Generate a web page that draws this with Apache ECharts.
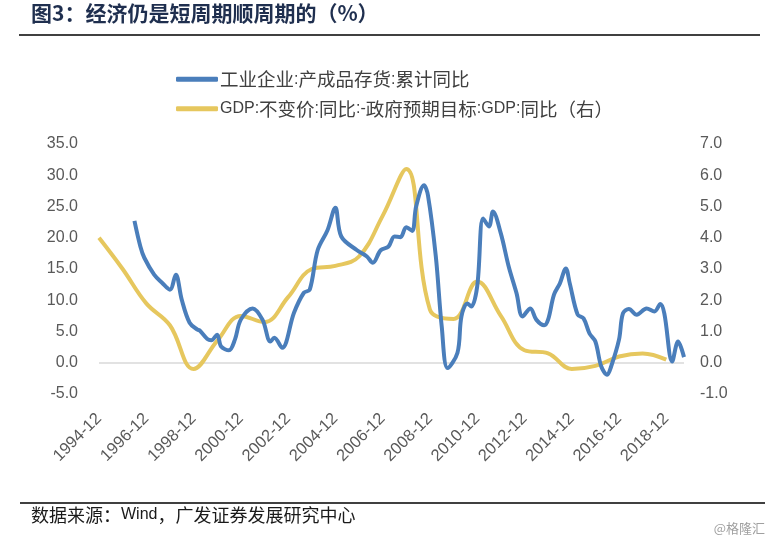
<!DOCTYPE html>
<html><head><meta charset="utf-8">
<script src="https://cdn.jsdelivr.net/npm/echarts@6/dist/echarts.min.js"></script>
<style>html,body{margin:0;padding:0;background:#fff}#c{width:779px;height:544px}</style>
</head><body><div id="c"></div>
<script>
// category axis: monthly, 1994-12 .. 2019-09
const startYear = 1994, startMonth = 12, monthCount = 298;
const categories = [];
for (let k = 0; k < monthCount; k++) {
  const t = (startMonth - 1) + k;
  const y = startYear + Math.floor(t / 12);
  const m = (t % 12) + 1;
  categories.push(y + '-' + (m < 10 ? '0' + m : m));
}
// Series 1: 工业企业:产成品存货:累计同比 (left axis)
const invDates = ['1996-06','1996-09','1996-11','1997-04','1997-08','1997-12','1998-03','1998-06','1998-10','1999-02','1999-03','1999-07','1999-09','1999-12','2000-02','2000-06','2000-09','2000-12','2001-06','2001-11','2002-03','2002-05','2002-09','2003-03','2003-08','2003-11','2004-03','2004-08','2004-12','2005-03','2005-11','2006-04','2006-07','2006-11','2007-03','2007-06','2007-09','2007-12','2008-03','2008-05','2008-09','2008-11','2009-03','2009-06','2009-09','2010-02','2010-04','2010-07','2010-09','2010-12','2011-03','2011-06','2011-08','2011-12','2012-04','2012-08','2012-11','2013-03','2013-06','2013-10','2013-12','2014-03','2014-06','2014-09','2014-11','2015-03','2015-06','2015-09','2015-12','2016-03','2016-06','2016-08','2016-12','2017-02','2017-05','2017-09','2018-02','2018-06','2018-09','2018-11','2019-03','2019-06','2019-09'];
const invValues = [22.7,18.6,16.8,14.1,12.8,11.7,14.1,10.1,6.4,5.3,5.2,3.8,3.6,4.5,2.6,2.0,3.7,6.9,8.7,6.9,3.4,4.0,2.4,8.0,11.2,11.7,18.0,21.2,24.8,20.2,18.0,17.0,16.0,18.0,18.6,20.2,20.1,21.7,21.1,25.0,28.4,26.8,17.0,5.8,-0.85,1.6,7.4,9.5,9.0,12.2,23.1,21.8,24.2,20.7,15.4,11.1,7.4,8.7,6.9,6.0,6.9,10.9,12.7,15.1,12.7,7.7,7.1,4.7,3.4,-0.6,-1.9,-0.6,3.7,7.9,8.6,7.7,8.7,8.2,9.4,7.9,0.2,3.4,0.9];
// Series 2: GDP:不变价:同比 - 政府预期目标 (right axis), annual
const gdpDates = ['1994-12','1995-12','1996-12','1997-12','1998-12','1999-12','2000-12','2001-12','2002-12','2003-12','2004-12','2005-12','2006-12','2007-12','2008-12','2009-12','2010-12','2011-12','2012-12','2013-12','2014-12','2015-12','2016-12','2017-12','2018-12'];
const gdpValues = [4.0,3.0,1.9,1.2,-0.2,0.7,1.5,1.3,2.1,3.0,3.1,3.4,4.7,6.2,1.7,1.4,2.6,1.5,0.4,0.3,-0.2,-0.1,0.2,0.3,0.1];
const leftTicks = {min:-5, max:35, interval:5};
const rightTicks = {min:-1, max:7, interval:1};
const name1 = '工业企业:产成品存货:累计同比';
const name2 = 'GDP:不变价:同比:-政府预期目标:GDP:同比（右）';

const latin = '"Liberation Sans", Arial, "Noto Sans CJK SC", sans-serif';
const cjk = '"Noto Sans CJK SC", "Liberation Sans", sans-serif';
// split text into CJK / latin runs for rich text
function richify(s) {
  let out = '', cur = '', curType = null;
  for (const ch of s) {
    const t = /[\u3000-\u9fff\uff00-\uffef]/.test(ch) ? 'c' : 'l';
    if (t !== curType && cur) { out += '{' + curType + '|' + cur + '}'; cur = ''; }
    curType = t; cur += ch;
  }
  if (cur) out += '{' + curType + '|' + cur + '}';
  return out;
}
const chart = echarts.init(document.getElementById('c'), null, {renderer:'canvas'});
chart.setOption({
  animation:false,
  backgroundColor:'#fff',
  grid:{left:99, right:95, top:144, bottom:150, containLabel:false},
  legend:{
    orient:'vertical', left:171, top:65, itemGap:11,
    itemWidth:42, itemHeight:5, icon:'roundRect',
    formatter:n=>richify(n),
    textStyle:{color:'#404040', fontSize:16, fontFamily:latin, padding:[0,0,0,-3],
      rich:{c:{fontFamily:cjk, fontSize:18.5, color:'#404040'}, l:{fontFamily:latin, fontSize:16, color:'#404040'}}},
    data:[name1, name2]
  },
  xAxis:{
    type:'category', data:categories, boundaryGap:false,
    axisLine:{show:false}, axisTick:{show:false}, splitLine:{show:false},
    axisLabel:{interval:23, rotate:45, margin:22, fontFamily:latin, fontSize:16.5, color:'#595959'}
  },
  yAxis:[
    {type:'value', min:leftTicks.min, max:leftTicks.max, interval:leftTicks.interval,
     splitLine:{show:false}, axisLine:{show:false}, axisTick:{show:false},
     axisLabel:{margin:21, fontFamily:latin, fontSize:16, color:'#595959', formatter:v=>v.toFixed(1)}},
    {type:'value', min:rightTicks.min, max:rightTicks.max, interval:rightTicks.interval,
     splitLine:{show:false}, axisLine:{show:false}, axisTick:{show:false},
     axisLabel:{margin:16, fontFamily:latin, fontSize:16, color:'#595959', formatter:v=>v.toFixed(1)}}
  ],
  series:[
    {name:name1, type:'line', yAxisIndex:0, smooth:0.35, showSymbol:false, symbol:'none',
     data:invDates.map((d,i)=>[d, invValues[i]]),
     lineStyle:{color:'#4a7ebb', width:4}, itemStyle:{color:'#4a7ebb'}, z:3,
     markLine:{silent:true, symbol:'none', label:{show:false},
       lineStyle:{color:'#d9d9d9', width:1.5, type:'solid'}, data:[{yAxis:0}], z:1}},
    {name:name2, type:'line', yAxisIndex:1, smooth:0.4, showSymbol:false, symbol:'none',
     data:gdpDates.map((d,i)=>[d, gdpValues[i]]),
     lineStyle:{color:'#e6c75e', width:4}, itemStyle:{color:'#e6c75e'}, z:2}
  ],
  graphic:[
    {type:'text', left:31, top:3, style:{text:'图3：经济仍是短周期顺周期的（%）', font:'bold 21px ' + cjk, fill:'#1f2f4f'}},
    {type:'line', shape:{x1:19, y1:35, x2:760, y2:35}, style:{stroke:'#000', lineWidth:1.5}},
    {type:'line', shape:{x1:20, y1:503, x2:765, y2:503}, style:{stroke:'#000', lineWidth:1.5}},
    {type:'text', left:31, top:506, style:{text:richify('数据来源：Wind，广发证券发展研究中心'),
      rich:{c:{fontFamily:cjk, fontSize:18, fill:'#1a1a1a'}, l:{fontFamily:latin, fontSize:16, fill:'#1a1a1a'}}}},
    {type:'text', right:14, top:522, style:{text:'@格隆汇', font:'13px ' + cjk, fill:'#a0a0a0'}}
  ]
});
</script></body></html>
